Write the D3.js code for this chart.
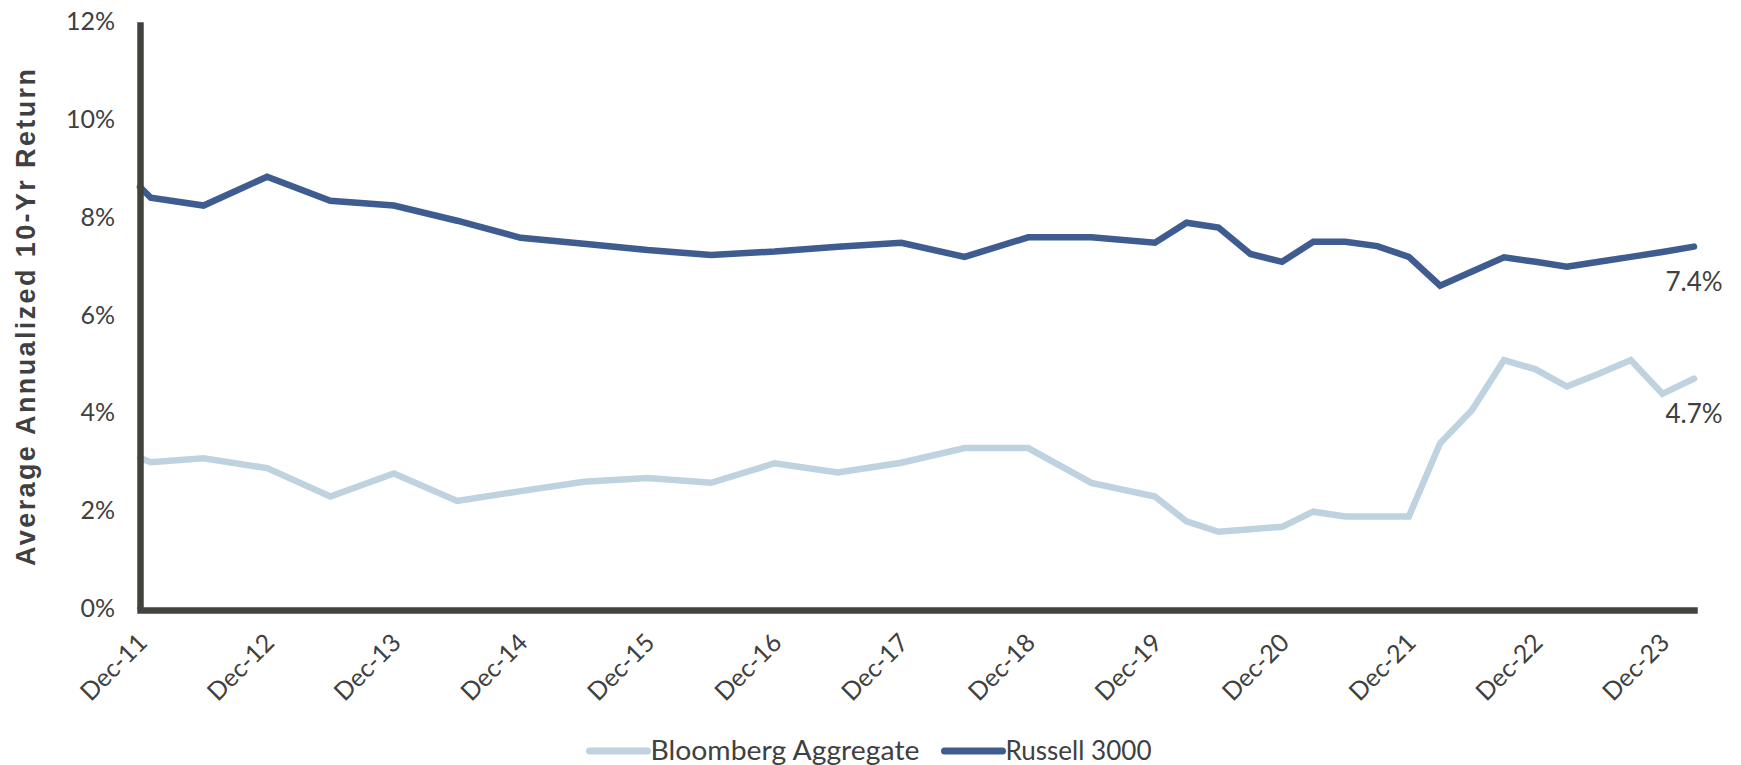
<!DOCTYPE html>
<html>
<head>
<meta charset="utf-8">
<script src="https://cdn.jsdelivr.net/npm/d3@7"></script>
<style>
  body { margin: 0; background: #ffffff; }
  text { font-family: Lato, "Open Sans", sans-serif; fill: #404040; }
</style>
</head>
<body>
<svg id="chart" width="1741" height="765"></svg>
<script>
// Observation dates (semi-annual to 2019, quarterly afterwards)
const periods = [
  "2011-12", "2012-01", "2012-06", "2012-12", "2013-06", "2013-12", "2014-06", "2014-12",
  "2015-06", "2015-12", "2016-06", "2016-12", "2017-06", "2017-12", "2018-06", "2018-12",
  "2019-06", "2019-12", "2020-03", "2020-06", "2020-09", "2020-12", "2021-03", "2021-06",
  "2021-09", "2021-12", "2022-03", "2022-06", "2022-09", "2022-12", "2023-03", "2023-06",
  "2023-09", "2023-12", "2024-03"
];

// Average annualized 10-year return, %
const bloombergAgg = [
  3.08, 2.99, 3.07, 2.87, 2.29, 2.76, 2.20, 2.40,
  2.59, 2.67, 2.57, 2.97, 2.78, 2.98, 3.28, 3.28,
  2.57, 2.29, 1.78, 1.57, 1.62, 1.67, 1.98, 1.88,
  1.88, 1.88, 3.38, 4.06, 5.08, 4.89, 4.54, 4.80,
  5.08, 4.39, 4.7
];
const russell3000 = [
  8.62, 8.40, 8.24, 8.83, 8.34, 8.24, 7.93, 7.58,
  7.46, 7.33, 7.23, 7.30, 7.40, 7.48, 7.19, 7.59,
  7.59, 7.48, 7.89, 7.79, 7.25, 7.09, 7.50, 7.50,
  7.41, 7.19, 6.60, 6.89, 7.18, 7.09, 6.99, 7.09,
  7.19, 7.29, 7.4
];

const yTicks = [0, 2, 4, 6, 8, 10, 12];
const xTickLabels = ["Dec-11", "Dec-12", "Dec-13", "Dec-14", "Dec-15", "Dec-16", "Dec-17",
                     "Dec-18", "Dec-19", "Dec-20", "Dec-21", "Dec-22", "Dec-23"];
const seriesNames = ["Bloomberg Aggregate", "Russell 3000"];
const yTitle = "Average Annualized 10-Yr Return";

// ---- layout & styles ----
const W = 1741, H = 765;
const plot = { left: 140, right: 1694, top: 21.7, bottom: 608.5 };
const colors = ["#BED3DF", "#3E5C8F"];
const axisColor = "#44423F";
const lineWidth = 6.5;
const legendTextWidths = [269, 146];

const parseMonth = d3.utcParse("%Y-%m");
const parseTick = d3.utcParse("%b-%y");
const fmtTick = d3.utcFormat("%b-%y");
const dates = periods.map(parseMonth);

const series = seriesNames.map((name, i) => ({
  name,
  color: colors[i],
  textWidth: legendTextWidths[i],
  values: (i === 0 ? bloombergAgg : russell3000).map((v, j) => ({ date: dates[j], value: v }))
}));

const x = d3.scaleUtc()
  .domain(d3.extent(dates))
  .range([plot.left, plot.right]);

const y = d3.scaleLinear()
  .domain([0, 12])
  .range([plot.bottom, plot.top]);

const svg = d3.select("#chart");

// ---- lines ----
const line = d3.line()
  .x(d => x(d.date))
  .y(d => y(d.value));

svg.append("g")
  .selectAll("path")
  .data(series)
  .join("path")
  .attr("d", d => line(d.values))
  .attr("fill", "none")
  .attr("stroke", d => d.color)
  .attr("stroke-width", lineWidth)
  .attr("stroke-linejoin", "miter")
  .attr("stroke-linecap", "round");

// ---- y axis ----
const yAxis = svg.append("g")
  .attr("transform", `translate(${plot.left},0)`)
  .call(d3.axisLeft(y)
    .tickValues(yTicks)
    .tickSize(0)
    .tickPadding(25)
    .tickFormat(d => d + "%"));
yAxis.attr("font-family", null).attr("font-size", null);
yAxis.select(".domain")
  .attr("stroke", axisColor)
  .attr("stroke-width", 6.5);
yAxis.selectAll(".tick text")
  .attr("fill", null)
  .style("font-size", "25px");

// ---- x axis ----
const xAxis = svg.append("g")
  .attr("transform", `translate(0,${plot.bottom + 1.5})`)
  .call(d3.axisBottom(x)
    .tickValues(xTickLabels.map(parseTick))
    .tickSize(0)
    .tickFormat(fmtTick));
xAxis.attr("font-family", null).attr("font-size", null);
xAxis.select(".domain")
  .attr("stroke", axisColor)
  .attr("stroke-width", 6.5)
  .attr("stroke-linecap", "square");
xAxis.selectAll(".tick text")
  .attr("fill", null)
  .attr("x", 0)
  .attr("y", 0)
  .attr("dy", "0.35em")
  .attr("text-anchor", "end")
  .attr("transform", "translate(2,28) rotate(-45)")
  .style("font-size", "25px");

// ---- y axis title ----
svg.append("text")
  .attr("transform", `translate(35,${(69 + 566) / 2}) rotate(-90)`)
  .attr("text-anchor", "middle")
  .attr("textLength", 497)
  .attr("lengthAdjust", "spacing")
  .style("font-family", "'Liberation Sans', Arial, sans-serif")
  .style("font-weight", "bold")
  .style("font-size", "27px")
  .text(yTitle);

// ---- end-of-series value labels ----
svg.append("g")
  .selectAll("text")
  .data(series)
  .join("text")
  .attr("x", d => x(d.values[d.values.length - 1].date))
  .attr("y", d => y(d.values[d.values.length - 1].value) + 35)
  .attr("dy", "0.35em")
  .attr("text-anchor", "middle")
  .style("font-size", "26px")
  .text(d => d3.format(".1f")(d.values[d.values.length - 1].value) + "%");

// ---- legend ----
const swatchW = 58, swatchGap = 3, itemGap = 25, legendY = 751;
const legend = svg.append("g");
const items = legend.selectAll("g")
  .data(series)
  .join("g");
items.append("line")
  .attr("x1", 0).attr("x2", swatchW)
  .attr("y1", 0).attr("y2", 0)
  .attr("stroke", d => d.color)
  .attr("stroke-width", 7)
  .attr("stroke-linecap", "round");
items.append("text")
  .attr("x", swatchW + swatchGap)
  .attr("y", 0)
  .attr("dy", "0.35em")
  .attr("textLength", d => d.textWidth)
  .attr("lengthAdjust", "spacingAndGlyphs")
  .style("font-size", "27px")
  .text(d => d.name);

// place items side by side, centred on the page
const widths = series.map(d => swatchW + swatchGap + d.textWidth);
const total = d3.sum(widths) + itemGap * (widths.length - 1);
const start = (W - total) / 2;
items.attr("transform", (d, i) => {
  const pos = start + d3.sum(widths.slice(0, i)) + itemGap * i;
  return `translate(${pos},${legendY})`;
});
</script>
</body>
</html>
